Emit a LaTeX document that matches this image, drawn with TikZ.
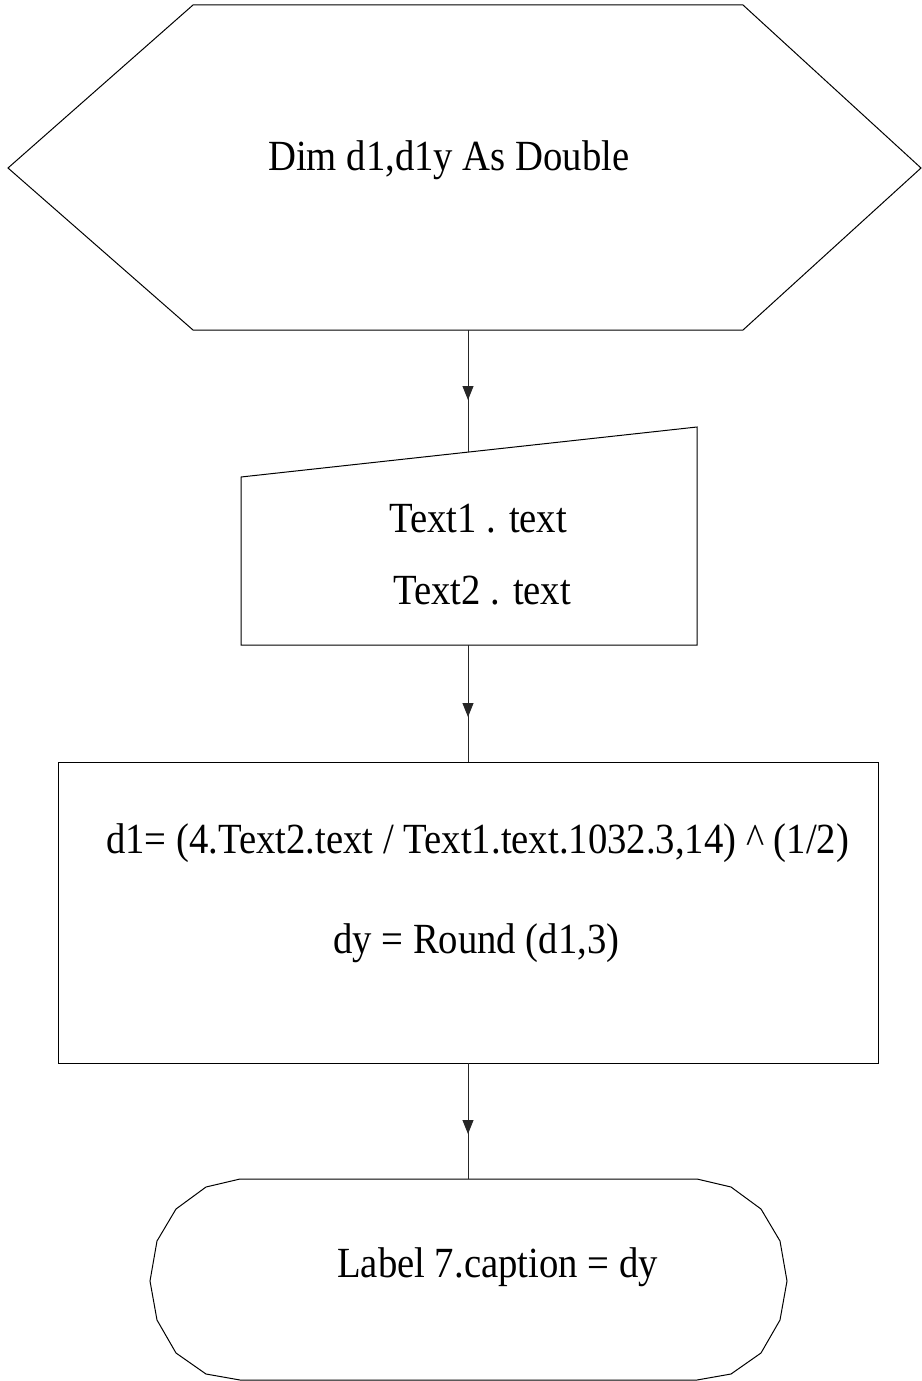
\documentclass[tikz,border=0pt]{standalone}
\usepackage{fontspec}
\setmainfont{Liberation Serif}[FakeStretch=0.9]
\usetikzlibrary{arrows.meta,decorations.markings}

\begin{document}
\begin{tikzpicture}[x=1pt,y=-1pt,
  shapeline/.style={draw=black, line width=1pt, line join=miter},
  flowtext/.style={anchor=base west, inner sep=0pt, font=\fontsize{43}{50}\selectfont},
  flowlink/.style={draw=black!85, line width=1pt, postaction={decorate},
    decoration={markings, mark=at position #1 with {\arrow{Triangle[length=14pt,width=11pt]}}}}
]
\useasboundingbox (0,0) rectangle (921,1381);

% preparation (hexagon)
\draw[shapeline] (8,168) -- (193,5) -- (743,5) -- (921,168) -- (743,330) -- (193,330) -- cycle;
\node[flowtext] (dim) at (268,170) {Dim d1,d1y As Double};

% manual input
\draw[shapeline] (241,477) -- (697,427) -- (697,645) -- (241,645) -- cycle;
\node[flowtext] (in1) at (389,532) {Text1 . text};
\node[flowtext] (in2) at (393,604) {Text2 . text};

% process
\draw[shapeline] (58,762) rectangle (878,1063);
\node[flowtext] (calc1) at (106,853) {d1= (4.Text2.text / Text1.text.1032.3,14) \^{} (1/2)};
\node[flowtext] (calc2) at (333,953) {dy = Round (d1,3)};

% terminator (polygonal rounded ends)
\draw[shapeline] (240,1179) -- (697,1179) -- (731,1187) -- (761,1209) -- (780,1241)
  -- (787,1281) -- (780,1320) -- (761,1353) -- (731,1374) -- (697,1380)
  -- (240,1380) -- (206,1374) -- (176,1353) -- (157,1320) -- (150,1281)
  -- (157,1241) -- (176,1209) -- (206,1187) -- cycle;
\node[flowtext] (out) at (337,1277) {Label 7.caption = dy};

% connector ends
\coordinate (hexS) at (468,330);
\coordinate (manN) at (468,452);
\coordinate (manS) at (468,645);
\coordinate (boxN) at (468,762);
\coordinate (boxS) at (468,1063);
\coordinate (termN) at (468,1179);

\draw[flowlink=70pt] (hexS) -- (manN);
\draw[flowlink=72pt] (manS) -- (boxN);
\draw[flowlink=71pt] (boxS) -- (termN);
\end{tikzpicture}
\end{document}
